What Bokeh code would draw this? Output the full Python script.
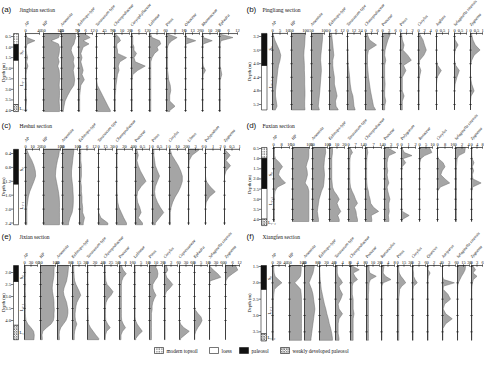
import math
from bokeh.plotting import figure
from bokeh.models import Range1d
from bokeh.embed import file_html
from bokeh.resources import INLINE
from bokeh.core.properties import value

# ---------------------------------------------------------------- data
# (a) Jingbian section
A_DEPTH = [0.4, 0.55, 0.7, 0.85, 1.0, 1.15, 1.3, 1.5, 1.7, 1.9, 2.1, 2.3, 2.55, 2.8, 3.05, 3.3, 3.55, 3.8, 4.0]
A_TAXA = ["AP", "HP", "Artemisia", "Echinops-type", "Taraxacum-type", "Chenopodiaceae",
          "Caryophyllaceae", "Labiatae", "Pinus", "Oleaceae", "Rhamnaceae", "Ephedra"]
A_TICKS = [[0, 40], [50, 100], [45, 90], [0, 6, 12], [0, 45, 90], [0, 10, 20], [0, 6, 12],
           [0, 3, 6], [0, 8, 16], [0, 13, 26], [0, 10, 20], [0, 6, 12]]
A_AP = [2, 4, 27, 5, 2, 2, 3, 6, 3, 7, 3, 2, 2, 3, 2, 2, 3, 2, 2]
A_HP = [97, 95, 72, 94, 97, 97, 96, 93, 96, 92, 96, 97, 97, 96, 97, 97, 96, 97, 97]
A_ART = [84, 85, 82, 80, 74, 72, 75, 80, 78, 81, 78, 80, 82, 80, 70, 62, 55, 52, 50]
A_ECH = [6, 10, 4, 9, 4, 3, 2, 3, 2, 3, 4, 3, 5, 2, 1.5, 1, 1, 1, 1]
A_TAR = [0, 0, 0, 0, 0, 0, 0, 0, 0, 0, 0, 0, 0.5, 5, 20, 35, 50, 65, 78]
A_CHE = [2, 6, 8, 3, 3, 4, 4, 16, 7, 5, 6, 4, 3, 2, 1.5, 1, 1, 1, 1]
A_CAR = [0.5, 1, 1, 1, 2, 2, 4, 2, 3, 11, 5, 1, 0.5, 0.5, 0.5, 0.5, 0.5, 0.5, 0.5]
A_LAB = [0.5, 1, 4, 4.5, 3, 3.5, 2, 1, 0.5, 0.5, 0.5, 0.5, 0.5, 0.5, 0.5, 0.5, 0.5, 0.5, 0.5]
A_PIN = [2, 10, 5, 2, 1, 1, 1, 1, 1, 1, 1, 1.5, 2, 3.5, 4, 3, 3, 8, 3]
A_OLE = [0.5, 1, 19, 1, 0.5, 0.5, 0.5, 0.5, 0.5, 0.5, 0.5, 0.5, 0.5, 0.5, 0.5, 0.5, 0.5, 0.5, 0.5]
A_RHA = [0.5, 1, 13, 1, 0.5, 0.5, 0.5, 0.5, 0.5, 1, 4, 1, 0.5, 0.5, 0.5, 0.5, 0.5, 0.5, 0.5]
A_EPH = [1, 9, 1, 0.5, 0.5, 0.5, 0.5, 0.5, 0.5, 0.5, 1, 1.5, 0.5, 0.5, 0.5, 0.5, 0.5, 0.5, 0.5]
A_DTICKS = [0.5, 1.0, 1.5, 2.0, 2.5, 3.0, 3.5, 4.0]
A_UNITS = [(0.36, 0.88, "topsoil"), (0.88, 1.62, "paleosol"), (1.62, 3.72, "loess"), (3.72, 4.05, "weak")]
A_ULAB = [("S₀", 1.25), ("L₁₋₁", 2.65), ("L₁₋₂", 3.9)]

# (b) Pingliang section
B_DEPTH = [3.15, 3.3, 3.45, 3.6, 3.75, 3.9, 4.05, 4.2, 4.4, 4.6, 4.8, 4.95, 5.1, 5.25, 5.35]
B_TAXA = ["AP", "HP", "Artemisia", "Echinops-type", "Taraxacum-type", "Chenopodiaceae",
          "Poaceae", "Pinus", "Corylus", "Juglans", "Selaginella sinensis", "Zygnema"]
B_TICKS = [[0, 5, 10], [50, 100], [50, 100], [0, 6, 12], [0, 12, 24], [0, 3, 6], [0, 3, 6],
           [0, 1, 2], [0, 2, 4], [0, 0.5, 1], [0, 0.5, 1], [0, 0.5, 1]]
B_AP = [0.5, 1.5, 3, 4.5, 5.5, 5, 4, 3.5, 3, 2.5, 2, 2, 2.5, 3, 2]
B_HP = [99, 98, 97, 95, 94, 95, 96, 96, 97, 97, 98, 98, 97, 97, 98]
B_ART = [93, 92, 90, 88, 86, 85, 87, 88, 86, 84, 82, 80, 78, 76, 80]
B_ECH = [2, 2.5, 3, 3.5, 4, 3, 3, 3.5, 4.5, 4.5, 6, 7, 5.5, 6, 8]
B_TAR = [0, 0, 0.3, 0.5, 1, 1, 1.5, 2.5, 4, 5, 7, 10, 11, 12, 14]
B_CHE = [1, 2, 5.5, 1.5, 1, 1, 1, 1.2, 1.5, 2, 2.5, 3, 3.5, 4, 5]
B_POA = [3.5, 2.5, 1.8, 1.2, 1, 1.5, 1, 1, 1, 1.2, 1, 1, 1.5, 1, 1]
B_PIN = [0.2, 0.3, 0.6, 0.4, 1.2, 1.8, 0.5, 0.9, 0.3, 0.3, 0.3, 0.6, 0.3, 0.3, 0.3]
B_COR = [0.5, 1.5, 2.0, 2.6, 1.8, 0.4, 0.2, 0.8, 0.3, 0.2, 0.2, 0.2, 0.2, 0.2, 0.2]
B_JUG = [0, 0, 0, 0, 0, 0, 0.1, 0.4, 0.05, 0, 0, 0, 0, 0, 0]
B_SEL = [0, 0.05, 0.3, 0.05, 0, 0, 0.1, 0.4, 0.2, 0.05, 0, 0, 0, 0, 0]
B_ZYG = [0.1, 0.2, 0.4, 0.8, 0.3, 0.1, 0, 0, 0, 0.1, 0.3, 0.05, 0, 0, 0]
B_DTICKS = [3.2, 3.6, 4.0, 4.4, 4.8, 5.2]
B_UNITS = [(3.11, 4.05, "paleosol"), (4.05, 5.36, "loess")]
B_ULAB = [("S₀", 3.55), ("L₁₋₁", 4.6)]

# (c) Heshui section
C_DEPTH = [0.3, 0.45, 0.6, 0.75, 0.9, 1.05, 1.2, 1.35, 1.5, 1.65, 1.8, 1.95, 2.1, 2.25, 2.4]
C_TAXA = ["AP", "HP", "Artemisia", "Echinops-type", "Taraxacum-type", "Chenopodiaceae",
          "Poaceae", "Pinus", "Corylus", "Ulmus", "Polypodium", "Zygnema"]
C_TICKS = [[0, 10, 20], [50, 100], [50, 100], [0, 6, 12], [0, 15, 30], [0, 20, 40], [0, 0.5, 1],
           [0, 0.5, 1], [0, 10, 20], [0, 3, 6], [0, 1, 2], [0, 0.5, 1]]
C_AP = [2, 5, 9, 12, 14, 14.5, 12, 9, 6, 4, 3, 2, 2, 2, 2]
C_HP = [97, 95, 91, 88, 86, 85, 88, 91, 94, 96, 97, 97, 97, 97, 97]
C_ART = [88, 86, 84, 82, 80, 80, 82, 84, 85, 86, 86, 85, 82, 75, 70]
C_ECH = [1, 1, 1, 1.5, 1.5, 1.5, 1, 1.5, 1.5, 2, 2, 2.5, 2.5, 4, 3]
C_TAR = [0, 0, 0, 0, 0, 0, 0, 0, 0, 0, 0, 0, 0.5, 5, 20]
C_CHE = [2, 1.5, 1.5, 1.5, 1.5, 1.5, 1.5, 1.5, 1.5, 2, 3, 6, 12, 18, 25]
C_POA = [0.1, 0.2, 0.1, 0.2, 0.35, 0.55, 0.75, 0.4, 0.15, 0.1, 0.15, 0.3, 0.4, 0.2, 0.5]
C_PIN = [0.1, 0.1, 0.15, 0.2, 0.35, 0.5, 0.35, 0.2, 0.15, 0.2, 0.35, 0.55, 0.8, 0.5, 0.2]
C_COR = [1, 3, 7, 11, 14, 16, 16, 14, 11, 7, 4, 2, 1, 1, 1]
C_ULM = [4.5, 1.5, 0.3, 0.2, 0.1, 0.1, 0.1, 0.1, 0.1, 0.1, 0.1, 0.1, 0.1, 0.1, 0.1]
C_POL = [0, 0, 0, 0, 0, 0, 0.1, 0.6, 1.3, 0.5, 0.1, 0, 0, 0, 0]
C_ZYG = [0.05, 0.38, 0.1, 0.4, 0.1, 0, 0, 0, 0, 0, 0, 0, 0, 0, 0]
C_DTICKS = [0.4, 0.8, 1.2, 1.6, 2.0, 2.4]
C_UNITS = [(0.28, 1.28, "paleosol"), (1.28, 2.45, "loess")]
C_ULAB = [("S₀", 0.85), ("L₁₋₁", 1.9)]

# (d) Fuxian section
D_DEPTH = [0.5, 0.7, 0.85, 1.0, 1.2, 1.4, 1.6, 1.8, 2.0, 2.2, 2.4, 2.6, 2.8, 3.0, 3.2, 3.4, 3.6, 3.8, 4.0]
D_TAXA = ["AP", "HP", "Artemisia", "Echinops-type", "Taraxacum-type", "Chenopodiaceae",
          "Poaceae", "Polygonum", "Rosaceae", "Corylus", "Selaginella sinensis", "Zygnema"]
D_TICKS = [[0, 8, 16], [50, 100], [50, 100], [0, 10, 20], [0, 7, 14], [0, 7, 14], [0, 3, 6],
           [0, 1, 2], [0, 5, 10], [0, 8, 16], [0, 2, 4], [0, 4, 8]]
D_AP = [1, 1, 1, 2, 6, 9, 6, 5, 8, 12, 4, 1.5, 1, 1, 1, 1, 1, 1, 1]
D_HP = [98, 98, 98, 97, 93, 90, 93, 94, 91, 87, 95, 98, 98, 98, 98, 98, 98, 98, 98]
D_ART = [93, 94, 92, 90, 89, 88, 89, 90, 89, 88, 86, 80, 76, 72, 70, 68, 66, 68, 70]
D_ECH = [4, 4, 3.5, 3, 3, 3, 3, 3, 3, 3.5, 4, 6, 10, 13, 10, 12, 15, 11, 13]
D_TAR = [2, 4, 2, 1.5, 1.3, 1.3, 1.3, 1.3, 1.3, 1.5, 2, 3.5, 5.5, 7, 9, 6, 7.5, 8, 9]
D_CHE = [1.5, 2, 1.5, 1.2, 1, 1, 1, 1, 1, 1.2, 1.5, 2.5, 3, 4, 4.5, 7, 11.5, 5, 5.5]
D_POA = [2, 5.2, 2, 1.5, 1.2, 1.2, 1.5, 1.2, 1.5, 2, 1.2, 1.5, 2, 2.5, 2, 2, 2.2, 1.8, 2]
D_POL = [0.1, 0.4, 1.5, 0.2, 0.6, 0.1, 0.05, 0.05, 0.05, 0.05, 0.05, 0.05, 0.05, 0.05, 0.05, 0.05, 0.1, 1.1, 0.1]
D_ROS = [8, 9.5, 4, 1, 0.3, 0.2, 0.2, 0.2, 0.2, 0.2, 0.2, 0.2, 0.2, 0.2, 0.2, 0.2, 0.2, 0.2, 0.2]
D_COR = [0, 0, 0, 1, 6, 8, 5, 3.5, 8, 13, 3, 0.2, 0.1, 0.1, 0.1, 0.1, 0.1, 0.1, 0.1]
D_SEL = [3, 2.8, 1, 0.5, 0.4, 0.3, 0.3, 0.3, 0.3, 0.3, 0.3, 0.3, 0.3, 0.3, 0.3, 0.3, 0.3, 0.3, 0.3]
D_ZYG = [0.3, 0.3, 0.3, 0.5, 1.8, 0.6, 1.5, 0.6, 1, 7, 0.8, 0.3, 0.2, 0.2, 0.2, 0.2, 0.2, 0.2, 0.2]
D_DTICKS = [0.5, 1.0, 1.5, 2.0, 2.5, 3.0, 3.5, 4.0]
D_UNITS = [(0.45, 0.98, "topsoil"), (0.98, 2.47, "paleosol"), (2.47, 3.98, "loess"), (3.98, 4.3, "weak")]
D_ULAB = [("S₀", 1.75), ("L₁₋₁", 3.1), ("L₁₋₂", 4.15)]

# (e) Jixian section
E_DEPTH = [1.75, 1.9, 2.05, 2.2, 2.35, 2.5, 2.65, 2.8, 2.95, 3.1, 3.25, 3.4, 3.55, 3.7, 3.85,
           4.0, 4.15, 4.3, 4.45, 4.6, 4.75]
E_TAXA = ["AP", "HP", "Artemisia", "Echinops-type", "Taraxacum-type", "Chenopodiaceae",
          "Poaceae", "Labiatae", "Pinus", "Corylus", "Cupressaceae", "Ephedra",
          "Selaginella sinensis", "Zygnema"]
E_TICKS = [[0, 30, 60], [50, 100], [40, 80], [0, 15, 30], [0, 20, 40], [0, 25, 50], [0, 8, 16],
           [0, 5, 10], [0, 10, 20], [0, 3, 6], [0, 30, 60], [0, 5, 10], [0, 30, 60], [0, 6, 12]]
E_AP = [4, 5, 5, 4, 4, 5, 4, 4, 5, 4, 4, 5, 4, 4, 5, 7, 15, 30, 42, 45, 44]
E_HP = [96, 95, 95, 94, 92, 90, 89, 90, 92, 94, 95, 95, 96, 95, 95, 93, 85, 70, 58, 55, 56]
E_ART = [74, 73, 72, 70, 68, 64, 60, 58, 60, 64, 68, 70, 72, 72, 70, 66, 58, 50, 46, 45, 46]
E_ECH = [3, 3, 3.5, 4, 5, 8, 12, 16, 19, 14, 10, 8, 7, 6, 6, 7, 10, 7, 5, 4, 4]
E_TAR = [1, 1, 1, 1, 1, 1.5, 1.5, 1.5, 1.5, 1.5, 1.5, 1.5, 1.5, 1.5, 2, 2, 3, 8, 15, 22, 30]
E_CHE = [3, 3, 3, 4, 5, 10, 22, 33, 25, 12, 6, 4, 4, 4, 4, 5, 12, 22, 8, 4, 3]
E_POA = [3, 5, 9, 5, 3, 2.5, 2.5, 2.5, 2.5, 2.5, 2.5, 2.5, 2.5, 2.5, 2.5, 3, 5, 8, 4, 2, 2]
E_LAB = [0.5, 0.5, 0.5, 0.5, 0.5, 0.5, 0.5, 0.5, 0.5, 0.5, 0.5, 0.5, 0.5, 0.5, 0.5, 0.8, 2, 4, 6, 3, 1]
E_PIN = [9, 12, 13, 12, 8, 5, 5, 7, 10, 7, 5, 4, 4, 3, 3, 3, 3, 3, 3, 3, 3]
E_COR = [1, 1.5, 0.5, 1, 2.5, 3.8, 2.5, 0.8, 0.3, 0.3, 0.3, 0.3, 0.3, 0.3, 0.3, 0.3, 0.3, 0.3, 0.3, 0.3, 0.3]
E_CUP = [0, 0, 0, 0, 0, 0, 0, 0, 0, 0, 0, 0, 0, 0, 0, 0, 5, 20, 45, 25, 5]
E_EPH = [0, 0, 0, 0, 0, 0, 0, 0, 0, 0, 0, 0, 0.5, 2.5, 5, 5.8, 4.5, 2.5, 1, 0.2, 0.2]
E_SEL = [3, 18, 38, 52, 3, 0.3, 0.3, 0.3, 0.3, 0.3, 0.3, 0.3, 0.3, 0.3, 0.3, 0.3, 0.3, 0.3, 0.3, 0.3, 0.3]
E_ZYG = [9, 10.5, 6, 2, 0.3, 0, 0, 0, 0, 0, 0, 0, 0, 0, 0, 0, 0, 0, 0, 0, 0]
E_DTICKS = [2.0, 2.5, 3.0, 3.5, 4.0]
E_UNITS = [(1.71, 2.375, "paleosol"), (2.375, 4.2, "loess"), (4.2, 4.8, "weak")]
E_ULAB = [("S₀", 2.2), ("L₁₋₁", 3.45), ("L₁₋₂", 4.5)]

# (f) Xiangfen section
F_DEPTH = [1.5, 1.6, 1.7, 1.8, 1.9, 2.0, 2.1, 2.2, 2.35, 2.5, 2.65, 2.8, 2.95, 3.1, 3.25, 3.4, 3.55, 3.7]
F_TAXA = ["AP", "HP", "Artemisia", "Echinops-type", "Taraxacum-type", "Chenopodiaceae",
          "Poaceae", "Ranunculus", "Pinus", "Corylus", "Quercus", "Juniperus",
          "Selaginella sinensis", "Zygnema"]
F_TICKS = [[0, 20, 40], [50, 100], [40, 80], [0, 20, 40], [0, 4, 8], [0, 4, 8], [0, 10, 20],
           [0, 4, 8], [0, 15, 30], [0, 3, 6], [0, 2, 4], [0, 3, 6], [0, 15, 30], [0, 3, 6]]
F_AP = [4, 4, 5, 8, 18, 29, 16, 6, 4, 3, 3, 3, 3, 3, 3, 3, 3, 3]
F_HP = [95, 95, 94, 92, 82, 70, 82, 93, 95, 96, 96, 96, 96, 96, 96, 96, 96, 96]
F_ART = [70, 68, 66, 62, 58, 54, 58, 62, 66, 68, 70, 72, 70, 68, 66, 64, 62, 60]
F_ECH = [0.5, 0.5, 1, 1.5, 2, 3, 4, 5, 8, 11, 14, 18, 21, 25, 28, 32, 35, 37]
F_TAR = [1, 1, 1, 1.5, 3, 4, 2, 2.5, 4, 3, 1.5, 2, 4, 2, 1.5, 1.5, 1.5, 2]
F_CHE = [1.5, 5, 1.5, 2.5, 4, 1.5, 1, 1, 1, 1.5, 1.5, 1.5, 2, 1.5, 1.5, 1.5, 1.5, 1.5]
F_POA = [4, 4, 5, 15, 6, 4, 3.5, 3.5, 3, 3, 3, 3, 3, 3, 3, 3, 3, 3]
F_RAN = [1.5, 1.2, 1, 2.5, 5.8, 1, 0.3, 0.3, 0.3, 0.3, 0.3, 0.3, 0.3, 0.3, 0.3, 0.3, 0.3, 0.3]
F_PIN = [3, 3, 4, 8, 14, 19, 10, 5, 4, 3, 3, 3, 3, 3, 3, 3, 3, 3]
F_COR = [0.3, 0.3, 0.5, 0.5, 1.2, 2.2, 0.5, 0.3, 0.3, 0.3, 0.3, 0.3, 0.3, 0.3, 0.3, 0.3, 0.3, 0.3]
F_QUE = [0.2, 0.2, 0.8, 0.3, 0.2, 0.2, 0.2, 0.2, 0.2, 0.2, 0.2, 0.2, 0.2, 0.2, 0.2, 0.2, 0.2, 0.2]
F_JUN = [0, 0, 0, 0, 0.5, 5.5, 0.5, 0.3, 2.5, 3.7, 1, 0.3, 1.5, 4.5, 1.5, 0.2, 0.2, 0.2]
F_SEL = [20, 19, 15, 10, 6, 2, 0.5, 0.3, 0.3, 0.3, 0.3, 0.3, 0.3, 0.3, 0.3, 0.3, 0.3, 0.3]
F_ZYG = [1, 2.2, 0.8, 3, 1, 0.5, 0.3, 0.2, 0.2, 0.2, 0.2, 0.2, 0.2, 0.2, 0.2, 0.2, 0.2, 0.2]
F_DTICKS = [1.5, 2.0, 2.5, 3.0, 3.5]
F_UNITS = [(1.47, 2.2, "paleosol"), (2.2, 3.56, "loess"), (3.56, 3.78, "weak")]
F_ULAB = [("S₀", 1.85), ("L₁₋₁", 2.85), ("L₁₋₂", 3.67)]

LEGEND_KINDS = ["topsoil", "loess", "paleosol", "weak"]
LEGEND_TEXT = ["modern topsoil", "loess", "paleosol", "weakly developed paleosol"]

# ---------------------------------------------------------------- layout (image pixels)
A_COLS = [(33, 47), (51, 68), (69, 85), (86, 100), (104, 120), (122, 137), (139, 154), (157, 172),
          (174, 191), (193, 207), (210, 225), (227, 245)]
B_COLS = [(280, 295), (299, 313), (319, 332), (337, 350), (355, 368), (373, 385), (390, 403),
          (408, 420), (426, 438), (444, 456), (462, 474), (478, 490)]
C_COLS = [(33, 47), (51, 68), (70, 85), (87, 102), (106, 120), (124, 140), (143, 157), (160, 174),
          (177, 193), (196, 210), (213, 228), (232, 247)]
D_COLS = [(281, 297), (300, 317), (320, 335), (337, 352), (356, 370), (373, 389), (392, 405),
          (409, 423), (427, 440), (445, 460), (463, 476), (479, 490)]
E_COLS = [(32, 45), (48, 63), (65, 78), (80, 93), (95, 110), (112, 125), (127, 139), (142, 155),
          (157, 170), (172, 185), (187, 200), (202, 215), (217, 230), (233, 247)]
F_COLS = [(280, 293), (297, 310), (312, 325), (327, 341), (343, 357), (358, 372), (374, 387),
          (389, 402), (405, 418), (420, 433), (435, 448), (450, 463), (465, 477), (479, 490)]

PANELS = [
    dict(key="a", label="(a)", title="Jingbian section", head=(9, 17, 27),
         refs=((0.5, 44), (4.0, 118)), extent=(0.36, 4.05), lith=(21, 26), dlab=18.5, dtit=10.5,
         depth=A_DEPTH, taxa=A_TAXA, ticks=A_TICKS, cols=A_COLS, dticks=A_DTICKS, units=A_UNITS, ulab=A_ULAB,
         values=[A_AP, A_HP, A_ART, A_ECH, A_TAR, A_CHE, A_CAR, A_LAB, A_PIN, A_OLE, A_RHA, A_EPH]),
    dict(key="b", label="(b)", title="Pingliang section", head=(254, 17, 270),
         refs=((3.2, 44), (5.2, 112)), extent=(3.11, 5.36), lith=(269, 274.5), dlab=266.5, dtit=257,
         depth=B_DEPTH, taxa=B_TAXA, ticks=B_TICKS, cols=B_COLS, dticks=B_DTICKS, units=B_UNITS, ulab=B_ULAB,
         values=[B_AP, B_HP, B_ART, B_ECH, B_TAR, B_CHE, B_POA, B_PIN, B_COR, B_JUG, B_SEL, B_ZYG]),
    dict(key="c", label="(c)", title="Heshui section", head=(9, 133, 27),
         refs=((0.4, 161), (2.4, 230.5)), extent=(0.28, 2.45), lith=(21, 26), dlab=18.5, dtit=10.5,
         depth=C_DEPTH, taxa=C_TAXA, ticks=C_TICKS, cols=C_COLS, dticks=C_DTICKS, units=C_UNITS, ulab=C_ULAB,
         values=[C_AP, C_HP, C_ART, C_ECH, C_TAR, C_CHE, C_POA, C_PIN, C_COR, C_ULM, C_POL, C_ZYG]),
    dict(key="d", label="(d)", title="Fuxian section", head=(254, 133, 270),
         refs=((0.5, 156), (4.0, 227)), extent=(0.45, 4.1), lith=(269, 274.5), dlab=266.5, dtit=257,
         depth=D_DEPTH, taxa=D_TAXA, ticks=D_TICKS, cols=D_COLS, dticks=D_DTICKS, units=D_UNITS, ulab=D_ULAB,
         values=[D_AP, D_HP, D_ART, D_ECH, D_TAR, D_CHE, D_POA, D_POL, D_ROS, D_COR, D_SEL, D_ZYG]),
    dict(key="e", label="(e)", title="Jixian section", head=(9, 244, 27),
         refs=((2.0, 280), (4.0, 328)), extent=(1.71, 4.8), lith=(21, 26), dlab=18.5, dtit=10.5,
         depth=E_DEPTH, taxa=E_TAXA, ticks=E_TICKS, cols=E_COLS, dticks=E_DTICKS, units=E_UNITS, ulab=E_ULAB,
         values=[E_AP, E_HP, E_ART, E_ECH, E_TAR, E_CHE, E_POA, E_LAB, E_PIN, E_COR, E_CUP, E_EPH, E_SEL, E_ZYG]),
    dict(key="f", label="(f)", title="Xiangfen section", head=(254, 244, 270),
         refs=((1.5, 274), (3.0, 323)), extent=(1.47, 3.76), lith=(268.5, 274), dlab=266, dtit=257,
         depth=F_DEPTH, taxa=F_TAXA, ticks=F_TICKS, cols=F_COLS, dticks=F_DTICKS, units=F_UNITS, ulab=F_ULAB,
         values=[F_AP, F_HP, F_ART, F_ECH, F_TAR, F_CHE, F_POA, F_RAN, F_PIN, F_COR, F_QUE, F_JUN, F_SEL, F_ZYG]),
]
LEGEND_X = [162, 217, 247, 288]
LEGEND_Y = 358

# ---------------------------------------------------------------- drawing
OFF = 8
W, H = 484, 354
FILL = "#a5a5a5"
EDGE = "#6c6c6c"
AX = "#1a1a1a"
SERIF = value("Liberation Serif")
SANS = value("Liberation Sans")

p = figure(width=W, height=H, x_range=Range1d(0, W), y_range=Range1d(H, 0),
           output_backend="svg", toolbar_location=None, min_border=0,
           x_axis_location=None, y_axis_location=None)
p.grid.visible = False
p.outline_line_color = None
p.background_fill_color = "white"
p.border_fill_color = "white"

STYLE = {
    "topsoil": dict(fill_color="white", hatch_pattern="dot", hatch_scale=2.5, hatch_weight=0.7, hatch_color="#222222"),
    "loess": dict(fill_color="white"),
    "paleosol": dict(fill_color="#111111"),
    "weak": dict(fill_color="white", hatch_pattern="diagonal_cross", hatch_scale=2.5, hatch_weight=0.5, hatch_color="#222222"),
}


def px(v):
    return v - OFF


def col_range(v0, v1, xl, xr):
    s = (v1 - v0) / (xr - xl)
    return Range1d(start=v0 - (xl - OFF) * s, end=v0 + (OFF + W - xl) * s)


def depth_range(d1, y1, d2, y2):
    s = (d2 - d1) / (y2 - y1)
    return Range1d(start=d1 + (OFF + H - y1) * s, end=d1 - (y1 - OFF) * s)


def fmt(t):
    return str(int(t)) if float(t).is_integer() else str(t)


def draw_panel(P):
    key = P["key"]
    yname = "d_" + key
    (d1, y1), (d2, y2) = P["refs"]
    p.extra_y_ranges[yname] = depth_range(d1, y1, d2, y2)
    dtop, dbot = P["extent"]
    lx0, lx1 = P["lith"]
    hx, hy, tx = P["head"]

    p.text(x=[px(hx)], y=[px(hy)], text=[P["label"]], text_font=SANS, text_font_size="8px",
           text_align="left", text_baseline="middle", text_color="#111111")
    p.text(x=[px(tx)], y=[px(hy)], text=[P["title"]], text_font=SERIF, text_font_size="5.5px",
           text_align="left", text_baseline="middle", text_color="#111111")

    dt = P["dticks"]
    p.text(x=[px(P["dtit"])], y=[(dtop + dbot) / 2], y_range_name=yname, text=["Depth (m)"],
           angle=math.pi / 2, text_font=SERIF, text_font_size="4.6px", text_align="center",
           text_baseline="middle", text_color="#111111")
    p.text(x=[px(P["dlab"])] * len(dt), y=dt, y_range_name=yname, text=[f"{t:.1f}" for t in dt],
           text_font=SERIF, text_font_size="4.6px", text_align="right", text_baseline="middle",
           text_color="#111111")
    p.scatter(x=[px(lx0) - 1.2] * len(dt), y=dt, y_range_name=yname, marker="dash", size=2.5,
              line_color=AX, line_width=0.6)

    for kind, st in STYLE.items():
        us = [u for u in P["units"] if u[2] == kind]
        if not us:
            continue
        p.quad(left=[px(lx0)] * len(us), right=[px(lx1)] * len(us), top=[u[0] for u in us],
               bottom=[u[1] for u in us], y_range_name=yname, line_color=AX, line_width=0.6, **st)

    vert = [u for u in P["ulab"] if not u[0].endswith("₂")]
    horz = [u for u in P["ulab"] if u[0].endswith("₂")]
    if vert:
        p.text(x=[px(lx1) + 3] * len(vert), y=[u[1] for u in vert], text=[u[0] for u in vert],
               y_range_name=yname, angle=math.pi / 2, text_font=SERIF, text_font_size="4.5px",
               text_align="center", text_baseline="middle", text_color="#111111")
    if horz:
        p.text(x=[px(lx1) + 1] * len(horz), y=[u[1] for u in horz], text=[u[0] for u in horz],
               y_range_name=yname, text_font=SERIF, text_font_size="4.5px",
               text_align="left", text_baseline="middle", text_color="#111111")

    inner = [t for t in dt if dtop <= t <= dbot]
    for i, (name, tk, vals, (xl, xr)) in enumerate(zip(P["taxa"], P["ticks"], P["values"], P["cols"])):
        v0, v1 = tk[0], tk[-1]
        xname = f"x_{key}{i}"
        p.extra_x_ranges[xname] = col_range(v0, v1, xl, xr)
        dep = P["depth"]
        n = min(len(dep), len(vals))
        xs = [v0, vals[0]] + list(vals[:n]) + [vals[n - 1], v0]
        ys = [dtop, dtop] + list(dep[:n]) + [dbot, dbot]
        p.patch(xs, ys, x_range_name=xname, y_range_name=yname, fill_color=FILL,
                line_color=EDGE, line_width=0.5)
        p.segment(x0=[v0, v0], y0=[dtop, dtop], x1=[v0, v1], y1=[dbot, dtop],
                  x_range_name=xname, y_range_name=yname, line_color=AX, line_width=0.7)
        mx = list(tk) + [v0] * len(inner)
        my = [dtop] * len(tk) + inner
        ma = [math.pi / 2] * len(tk) + [0] * len(inner)
        p.scatter(x=mx, y=my, angle=ma, marker="dash", size=2.5, line_color=AX, line_width=0.6,
                  x_range_name=xname, y_range_name=yname)
        p.text(x=list(tk), y=[dtop] * len(tk), text=[fmt(t) for t in tk], x_range_name=xname,
               y_range_name=yname, y_offset=-1.5, text_font=SERIF, text_font_size="4.5px",
               text_align="center", text_baseline="bottom", text_color="#111111")
        p.text(x=[v0], y=[dtop], text=[name], x_range_name=xname, y_range_name=yname,
               x_offset=1.5, y_offset=-6.5, angle=0.85, text_font=SERIF, text_font_size="4.2px",
               text_font_style="italic", text_align="left", text_baseline="bottom",
               text_color="#111111")


for P in PANELS:
    draw_panel(P)

for kind, lab, x in zip(LEGEND_KINDS, LEGEND_TEXT, LEGEND_X):
    p.quad(left=[px(x)], right=[px(x + 9)], top=[px(LEGEND_Y - 3)], bottom=[px(LEGEND_Y + 3)],
           line_color=AX, line_width=0.6, **STYLE[kind])
    p.text(x=[px(x + 12)], y=[px(LEGEND_Y)], text=[lab], text_font=SERIF, text_font_size="5.2px",
           text_align="left", text_baseline="middle", text_color="#111111")

open("out.html", "w").write(file_html(p, INLINE))
